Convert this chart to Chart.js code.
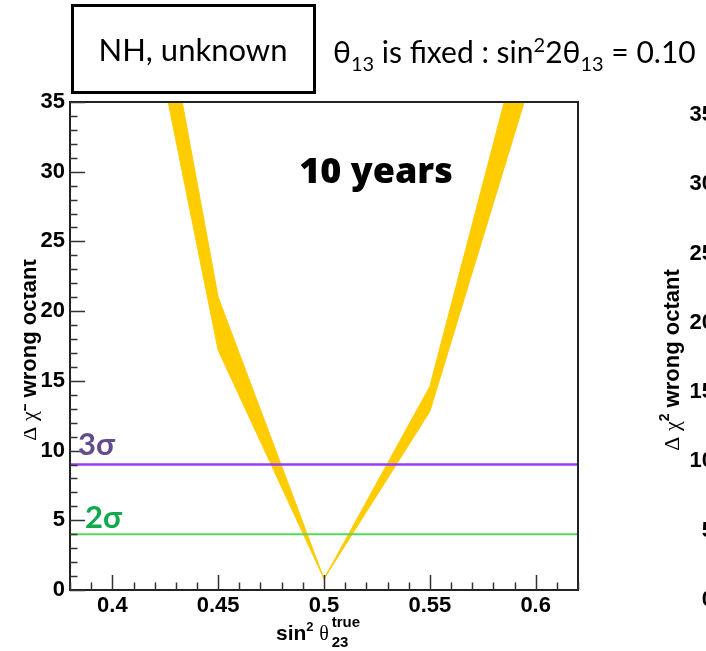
<!DOCTYPE html>
<html>
<head>
<meta charset="utf-8">
<title>Δχ² wrong octant, NH</title>
<script src="https://cdn.jsdelivr.net/npm/chart.js@4.4.0/dist/chart.umd.min.js"></script>
<style>
  html, body { margin: 0; padding: 0; background: #fff; }
  canvas { display: block; }
</style>
</head>
<body>
<canvas id="octant_chart" width="706" height="651"></canvas>
<script>
'use strict'

//Data ---------------------------------------------------------
const sinSqTheta23 = [0.40, 0.45, 0.50, 0.55, 0.60];
const chiSqLower = [54.9, 17.2, 0.8, 12.8, 37.7];
const chiSqUpper = [62.2, 21.0, 0.8, 14.6, 43.6];
const sigmaLevels = [9, 4];
const sigmaNames = ['3σ', '2σ'];
const sigmaLineColors = ['#9a3cf5', '#5ad85a'];
const sigmaTextColors = ['#624d8a', '#12a84e'];
const xRange = [0.38, 0.62];
const yRange = [0, 35];
const xTickValues = [0.4, 0.45, 0.5, 0.55, 0.6];
const yTickValues = [0, 5, 10, 15, 20, 25, 30, 35];
const xMinorStep = 0.01;
const yMinorStep = 1;
const sideTickLabels = ['35', '30', '25', '20', '15', '10', '5', '0'];

//Fonts and colours ---------------------------------------------------------
const AXIS_FONT = '"Liberation Sans", Arial, sans-serif';
const SLIDE_FONT = 'Lato, "Noto Sans", sans-serif';
const GREEK_FONT = '"Liberation Serif", "DejaVu Serif", serif';
const BAND_COLOR = '#ffcc00';

//Helpers ---------------------------------------------------------
function toPoints(xs, ys) {
  return xs.map((x, i) => ({ x: x, y: ys[i] }));
}

function runsWidth(ctx, runs) {
  let w = 0;
  for (const r of runs) {
    ctx.font = r.font;
    w += ctx.measureText(r.text).width;
  }
  return w;
}

function drawRuns(ctx, x, y, runs) {
  for (const r of runs) {
    ctx.font = r.font;
    ctx.fillText(r.text, x, y + (r.dy || 0));
    x += ctx.measureText(r.text).width;
  }
  return x;
}

function chiTitleRuns(size) {
  return [
    { text: 'Δ χ', font: `${size}px ${GREEK_FONT}` },
    { text: '2', font: `bold ${Math.round(size * 0.62)}px ${AXIS_FONT}`, dy: -size * 0.45 },
    { text: ' wrong octant', font: `bold ${size}px ${AXIS_FONT}` }
  ];
}

function drawRotatedTitle(ctx, xBase, yCenter, runs) {
  ctx.save();
  ctx.translate(xBase, yCenter);
  ctx.rotate(-Math.PI / 2);
  ctx.textBaseline = 'alphabetic';
  ctx.textAlign = 'left';
  drawRuns(ctx, -runsWidth(ctx, runs) / 2, 0, runs);
  ctx.restore();
}

//Decorations plugin ---------------------------------------------------------
const decorPlugin = {
  id: 'decor',
  beforeDraw(chart) {
    const ctx = chart.ctx;
    ctx.save();
    ctx.fillStyle = '#fff';
    ctx.fillRect(0, 0, chart.width, chart.height);
    ctx.restore();
  },
  afterDraw(chart) {
    const ctx = chart.ctx;
    const area = chart.chartArea;
    const xs = chart.scales.x;
    const ys = chart.scales.y;
    ctx.save();

    // frame
    ctx.strokeStyle = '#222';
    ctx.lineWidth = 2;
    ctx.strokeRect(area.left, area.top, area.right - area.left, area.bottom - area.top);

    // tick marks drawn inside the frame
    ctx.strokeStyle = '#333';
    ctx.lineWidth = 1.5;
    ctx.beginPath();
    const nx = Math.round((xRange[1] - xRange[0]) / xMinorStep);
    for (let i = 0; i <= nx; i++) {
      const v = xRange[0] + i * xMinorStep;
      const px = Math.round(xs.getPixelForValue(v)) + 0.5;
      const major = Math.abs(v * 20 - Math.round(v * 20)) < 1e-6;
      ctx.moveTo(px, area.bottom);
      ctx.lineTo(px, area.bottom - (major ? 15 : 7.5));
    }
    for (let v = yRange[0]; v <= yRange[1]; v += yMinorStep) {
      const py = Math.round(ys.getPixelForValue(v)) + 0.5;
      ctx.moveTo(area.left, py);
      ctx.lineTo(area.left + (v % 5 === 0 ? 15 : 7.5), py);
    }
    ctx.stroke();

    // sigma labels sit on their lines
    ctx.textAlign = 'left';
    ctx.textBaseline = 'alphabetic';
    sigmaLevels.forEach((lvl, i) => {
      ctx.fillStyle = sigmaTextColors[i];
      ctx.font = `bold 31px ${SLIDE_FONT}`;
      const py = ys.getPixelForValue(lvl);
      ctx.fillText(sigmaNames[i], area.left + (i === 0 ? 8 : 15), py - (i === 0 ? 10 : 6));
    });

    // exposure label
    ctx.fillStyle = '#000';
    ctx.textAlign = 'center';
    ctx.font = `800 36px "Open Sans", ${SLIDE_FONT}`;
    ctx.fillText('10 years', 376, 183);

    // x axis title: sin^2 theta23^true
    ctx.textAlign = 'left';
    let x = drawRuns(ctx, 276, 640, [
      { text: 'sin', font: `bold 21px ${AXIS_FONT}` },
      { text: '2', font: `bold 13px ${AXIS_FONT}`, dy: -9 },
      { text: ' ', font: `bold 20px ${AXIS_FONT}` },
      { text: 'θ', font: `20px ${GREEK_FONT}` }
    ]);
    ctx.font = `bold 15px ${AXIS_FONT}`;
    ctx.fillText('true', x + 3, 627);
    ctx.fillText('23', x + 3, 647);

    // y axis titles, the left one cut by the slide edge
    ctx.fillStyle = '#000';
    ctx.save();
    ctx.beginPath();
    ctx.rect(24, 0, 60, chart.height);
    ctx.clip();
    drawRotatedTitle(ctx, 36, 350, chiTitleRuns(22));
    ctx.restore();
    drawRotatedTitle(ctx, 679, 360, chiTitleRuns(22));

    // tick labels of the neighbouring panel
    ctx.font = `bold 22px ${AXIS_FONT}`;
    ctx.textAlign = 'right';
    ctx.textBaseline = 'middle';
    sideTickLabels.forEach((t, i) => {
      ctx.fillText(t, 714, 115 + i * (485 / (sideTickLabels.length - 1)));
    });

    // header box and theta13 note
    ctx.textBaseline = 'alphabetic';
    ctx.strokeStyle = '#000';
    ctx.lineWidth = 3;
    ctx.strokeRect(72.5, 5.5, 242, 87);
    ctx.textAlign = 'center';
    ctx.font = `31px ${SLIDE_FONT}`;
    ctx.fillText('NH, unknown', 193, 61);
    ctx.textAlign = 'left';
    drawRuns(ctx, 333, 63, [
      { text: 'θ', font: `30px ${SLIDE_FONT}` },
      { text: '13', font: `20px ${SLIDE_FONT}`, dy: 8 },
      { text: ' is fixed : sin', font: `30px ${SLIDE_FONT}` },
      { text: '2', font: `20px ${SLIDE_FONT}`, dy: -11 },
      { text: '2θ', font: `30px ${SLIDE_FONT}` },
      { text: '13', font: `20px ${SLIDE_FONT}`, dy: 8 },
      { text: ' = 0.10', font: `30px ${SLIDE_FONT}` }
    ]);

    ctx.restore();
  }
};

//Chart ---------------------------------------------------------
const ctx = document.getElementById('octant_chart').getContext('2d');

const datasets = [
  {
    label: 'lower',
    data: toPoints(sinSqTheta23, chiSqLower),
    borderColor: BAND_COLOR,
    borderWidth: 1,
    pointRadius: 0,
    fill: false,
    order: 2
  },
  {
    label: 'upper',
    data: toPoints(sinSqTheta23, chiSqUpper),
    borderColor: BAND_COLOR,
    backgroundColor: BAND_COLOR,
    borderWidth: 1,
    pointRadius: 0,
    fill: '-1',
    order: 2
  }
];
sigmaLevels.forEach((lvl, i) => {
  datasets.push({
    label: sigmaNames[i],
    data: toPoints(xRange, [lvl, lvl]),
    borderColor: sigmaLineColors[i],
    borderWidth: i === 0 ? 2.5 : 2,
    pointRadius: 0,
    fill: false,
    order: 1
  });
});

const octantChart = new Chart(ctx, {
  type: 'line',
  data: { datasets: datasets },
  options: {
    responsive: false,
    animation: false,
    events: [],
    layout: { padding: { left: 0, right: 128, top: 102, bottom: 0 } },
    plugins: {
      legend: { display: false },
      tooltip: { enabled: false }
    },
    elements: { line: { tension: 0 } },
    scales: {
      x: {
        type: 'linear',
        min: xRange[0],
        max: xRange[1],
        grid: { display: false, drawTicks: false },
        border: { display: false },
        afterBuildTicks: (scale) => { scale.ticks = xTickValues.map(v => ({ value: v })); },
        afterFit: (scale) => { scale.height = 61; },
        ticks: {
          padding: 3,
          color: '#000',
          maxRotation: 0,
          autoSkip: false,
          font: { family: AXIS_FONT, size: 22, weight: 'bold' },
          callback: (v) => String(+Number(v).toFixed(2))
        }
      },
      y: {
        type: 'linear',
        min: yRange[0],
        max: yRange[1],
        grid: { display: false, drawTicks: false },
        border: { display: false },
        afterBuildTicks: (scale) => { scale.ticks = yTickValues.map(v => ({ value: v })); },
        afterFit: (scale) => { scale.width = 70; },
        ticks: {
          padding: 5,
          color: '#000',
          autoSkip: false,
          font: { family: AXIS_FONT, size: 22, weight: 'bold' }
        }
      }
    }
  },
  plugins: [decorPlugin]
});
</script>
</body>
</html>
